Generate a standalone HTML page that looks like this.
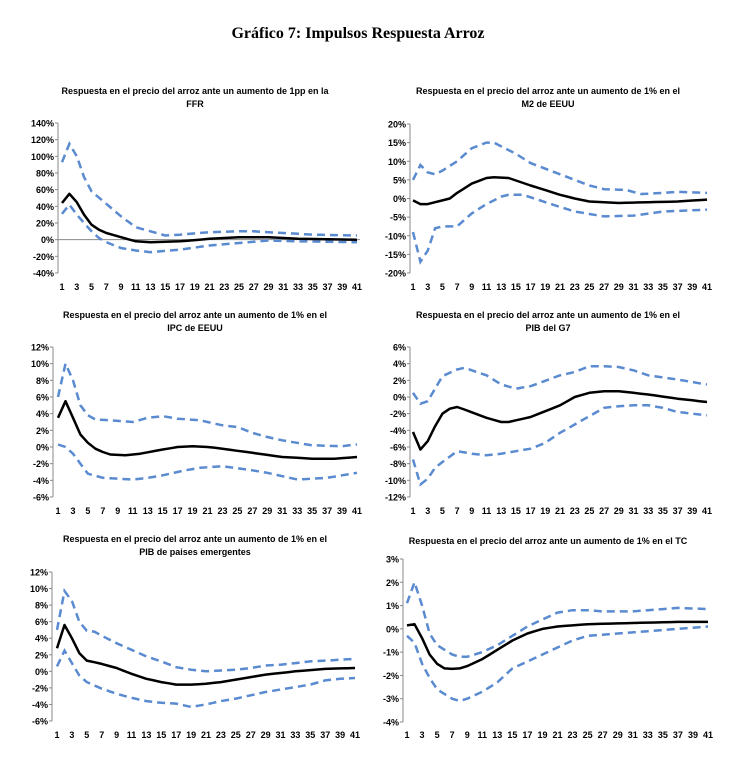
<!DOCTYPE html>
<html><head><meta charset="utf-8"><style>
body{margin:0;background:#fff;}
svg{display:block;font-family:"Liberation Sans",sans-serif;}
</style></head><body>
<svg id="s" width="749" height="770" xmlns="http://www.w3.org/2000/svg">
<text x="358" y="38" text-anchor="middle" font-family="Liberation Serif,serif" font-weight="bold" font-size="16">Gráfico 7: Impulsos Respuesta Arroz</text>
</svg>
<script>
var P=[
{ax:58,x1:62,x41:357,ytop:123,ybot:273,vmax:140,vmin:-40,step:20,xl:290,zero:true,
 t:["Respuesta en el precio del arroz ante un aumento de 1pp en la","FFR"],tx:195,ty:94,
 m:{1:44,2:55,3:45,4:30,5:18,6:12,7:8,9:3,11:-2,13:-3,17:-2,21:1,25:3,29:3,31:2,33:1,41:0},
 u:{1:93,2:115,3:100,4:75,5:58,7:43,9:28,11:15,13:10,15:5,17:6,21:9,25:10,27:10,31:8,35:6,41:5},
 l:{1:31,2:42,3:30,5:10,6:2,7:-3,9:-10,11:-13,13:-15,17:-12,21:-7,25:-4,29:-1,33:-2,41:-3}},
{ax:410,x1:413,x41:707,ytop:124,ybot:273,vmax:20,vmin:-20,step:5,xl:290,
 t:["Respuesta en el precio del arroz ante un aumento de 1% en el","M2 de EEUU"],tx:548,ty:94,
 m:{1:-0.5,2:-1.5,3:-1.5,5:-0.5,6:0,7:1.5,9:4,11:5.5,12:5.7,14:5.5,17:3.5,21:1,23:0,25:-0.8,29:-1.2,33:-1,37:-0.8,41:-0.3},
 u:{1:5,2:9,3:7,4:6.5,5:7.5,7:10,9:13.5,11:15,12:15,15:12,17:9.5,21:6.5,25:3.5,27:2.5,30:2.3,32:1.2,35:1.5,37:1.8,41:1.5},
 l:{1:-9,2:-17,3:-14,4:-8,5:-7.5,7:-7.5,9:-4,11:-1.5,13:0.5,14:1,16:1,19:-1,23:-3.5,27:-4.8,31:-4.6,35:-3.5,41:-3}},
{ax:53,x1:58,x41:357,ytop:347,ybot:497,vmax:12,vmin:-6,step:2,xl:514,
 t:["Respuesta en el precio del arroz ante un aumento de 1% en el","IPC de EEUU"],tx:195,ty:318,
 m:{1:3.5,2:5.5,3:3.5,4:1.5,5:0.5,6:-0.2,7:-0.6,8:-0.9,10:-1,12:-0.8,15:-0.3,17:0,19:0.1,21:0,23:-0.2,27:-0.7,31:-1.2,35:-1.4,38:-1.4,41:-1.2},
 u:{1:6,2:10,3:8,4:5,5:3.8,6:3.3,8:3.2,11:3,13:3.5,15:3.7,17:3.4,20:3.2,23:2.6,25:2.4,27:1.7,29:1.2,31:0.8,33:0.5,35:0.2,39:0.1,41:0.3},
 l:{1:0.3,2:0,3:-0.8,4:-2,5:-3.2,7:-3.7,11:-3.9,13:-3.7,15:-3.4,18:-2.8,20:-2.5,23:-2.3,27:-2.8,29:-3.1,31:-3.5,33:-3.9,37:-3.7,41:-3.1}},
{ax:410,x1:413,x41:707,ytop:347,ybot:497,vmax:6,vmin:-12,step:2,xl:514,
 t:["Respuesta en el precio del arroz ante un aumento de 1% en el","PIB del G7"],tx:548,ty:318,
 m:{1:-4.2,2:-6.3,3:-5.3,4:-3.5,5:-2,6:-1.4,7:-1.2,8:-1.5,11:-2.5,13:-3,14:-3,17:-2.4,21:-1,23:0,25:0.5,27:0.7,29:0.7,33:0.3,37:-0.2,41:-0.6},
 u:{1:0.5,2:-0.8,3:-0.5,4:1,5:2.5,7:3.3,8:3.5,11:2.6,13:1.5,15:1,17:1.3,21:2.6,23:3,25:3.7,27:3.7,29:3.6,31:3.2,33:2.6,37:2.1,41:1.5},
 l:{1:-7.5,2:-10.5,3:-9.8,4:-8.5,5:-7.8,7:-6.5,9:-6.8,11:-7,13:-6.8,15:-6.5,17:-6.2,19:-5.5,21:-4.3,23:-3.3,25:-2.3,27:-1.3,29:-1.1,31:-1,33:-1,35:-1.3,37:-1.8,39:-2,41:-2.2}},
{ax:52,x1:57,x41:355,ytop:572,ybot:721,vmax:12,vmin:-6,step:2,xl:738,
 t:["Respuesta en el precio del arroz ante un aumento de 1% en el","PIB de paises emergentes"],tx:195,ty:542,
 m:{1:2.8,2:5.6,3:4,4:2.2,5:1.3,7:0.9,9:0.4,11:-0.3,13:-0.9,15:-1.3,17:-1.6,19:-1.6,21:-1.5,23:-1.3,25:-1,29:-0.4,33:0,37:0.3,41:0.4},
 u:{1:5,2:9.7,3:8.5,4:6,5:4.9,6:4.8,7:4.3,9:3.4,11:2.6,13:1.8,15:1.2,17:0.5,19:0.2,21:0,23:0.1,25:0.2,27:0.4,29:0.7,31:0.8,35:1.2,39:1.4,41:1.5},
 l:{1:0.6,2:2.5,3:1,4:-0.5,5:-1.3,7:-2.1,9:-2.7,11:-3.2,13:-3.6,15:-3.8,17:-3.9,19:-4.3,21:-4,23:-3.6,25:-3.3,27:-2.9,29:-2.5,31:-2.2,33:-1.9,35:-1.6,37:-1.1,39:-0.9,41:-0.8}},
{ax:403,x1:407,x41:708,ytop:559,ybot:722,vmax:3,vmin:-4,step:1,xl:738,
 t:["Respuesta en el precio del arroz ante un aumento de 1% en el TC"],tx:548,ty:544,
 m:{1:0.15,2:0.2,3:-0.4,4:-1.1,5:-1.5,6:-1.7,7:-1.72,8:-1.7,9:-1.6,11:-1.3,13:-0.9,15:-0.5,17:-0.2,19:0,21:0.1,25:0.2,31:0.25,37:0.3,41:0.3},
 u:{1:1.1,2:2,3:1,4:-0.2,5:-0.7,7:-1.1,8:-1.2,9:-1.2,11:-1,13:-0.7,15:-0.3,17:0.1,19:0.4,21:0.7,23:0.8,25:0.8,27:0.75,31:0.75,35:0.85,37:0.9,41:0.85},
 l:{1:-0.3,2:-0.6,3:-1.5,4:-2.1,5:-2.6,7:-3,8:-3.1,9:-3,11:-2.7,13:-2.3,15:-1.7,17:-1.4,19:-1.1,21:-0.8,23:-0.5,25:-0.3,29:-0.2,33:-0.1,37:0,41:0.1}}
];
function interp(k){var ks=Object.keys(k).map(Number).sort(function(a,b){return a-b});var out=[];
for(var i=1;i<=41;i++){for(var j=0;j<ks.length-1;j++){if(i>=ks[j]&&i<=ks[j+1]){var t=(i-ks[j])/(ks[j+1]-ks[j]);out.push(k[ks[j]]+(k[ks[j+1]]-k[ks[j]])*t);break;}}}return out;}
var h='';
P.forEach(function(p){
 var Y=function(v){return p.ybot-(v-p.vmin)/(p.vmax-p.vmin)*(p.ybot-p.ytop)};
 var X=function(i){return p.x1+(i-1)*(p.x41-p.x1)/40};
 p.t.forEach(function(s,i){h+='<text x="'+p.tx+'" y="'+(p.ty+i*13)+'" text-anchor="middle" font-size="9" font-weight="bold">'+s+'</text>';});
 h+='<line x1="'+p.ax+'" y1="'+p.ytop+'" x2="'+p.ax+'" y2="'+p.ybot+'" stroke="#888" stroke-width="1"/>';
 for(var v=p.vmin;v<=p.vmax+1e-9;v+=p.step){var y=Y(v);
  h+='<line x1="'+(p.ax-3)+'" y1="'+y+'" x2="'+p.ax+'" y2="'+y+'" stroke="#888"/>';
  h+='<text x="'+(p.ax-4)+'" y="'+(y+3.5)+'" text-anchor="end" font-size="9" font-weight="bold">'+Math.round(v)+'%</text>';}
 if(p.zero){h+='<line x1="'+p.ax+'" y1="'+Y(0)+'" x2="'+(p.x41+3)+'" y2="'+Y(0)+'" stroke="#888"/>';}
 for(var i=1;i<=41;i+=2){h+='<text x="'+X(i)+'" y="'+p.xl+'" text-anchor="middle" font-size="9" font-weight="bold">'+i+'</text>';}
 ['u','l','m'].forEach(function(k){var a=interp(p[k]);var d=a.map(function(v,i){return (i?'L':'M')+X(i+1).toFixed(1)+' '+Y(v).toFixed(1)}).join(' ');
  if(k=='m')h+='<path d="'+d+'" fill="none" stroke="#000" stroke-width="2.5" stroke-linejoin="round"/>';
  else h+='<path d="'+d+'" fill="none" stroke="#5a8ad0" stroke-width="2.5" stroke-dasharray="8,5"/>';});
});
document.getElementById('s').insertAdjacentHTML('beforeend',h);
</script>
</body></html>
